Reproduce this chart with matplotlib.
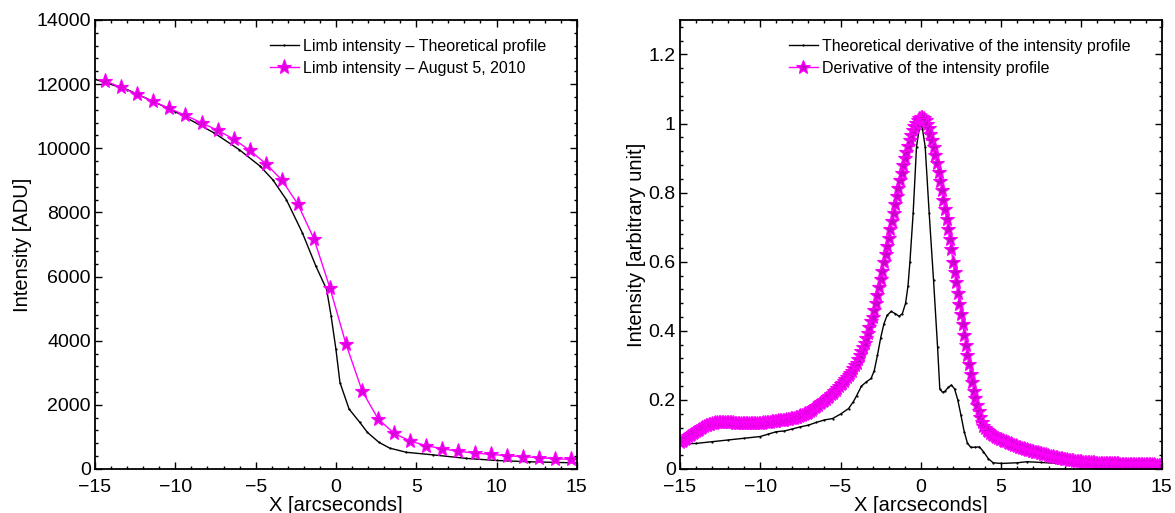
import numpy as np
import matplotlib.pyplot as plt
from matplotlib.ticker import MultipleLocator

plt.rcParams['font.family'] = ['Liberation Sans', 'DejaVu Sans']

# -------------------------------------------
# Left panel: limb intensity profiles
# -------------------------------------------
theo_x = [-15, -13, -11.6, -10, -7.57, -6.02, -4.71, -3.94, -3.09, -2.09,
          -1.25, -0.58, -0.30, 0.0, 0.25, 0.82, 1.49, 1.96, 2.68, 3.35, 4.39,
          6.05, 8.12, 10, 12, 15]
theo_y = [12150, 11830, 11510, 11140, 10474, 9955, 9437, 9022, 8400, 7363,
          6326, 5600, 4770, 3733, 2696, 1867, 1452, 1141, 830, 650, 520, 440,
          330, 265, 225, 190]

obs_x = [-14.37, -13.37, -12.37, -11.37, -10.37, -9.37, -8.37, -7.37, -6.37,
         -5.37, -4.37, -3.37, -2.37, -1.37, -0.37, 0.63, 1.63, 2.63, 3.63,
         4.63, 5.63, 6.63, 7.63, 8.63, 9.63, 10.63, 11.63, 12.63, 13.63, 14.63]
obs_y = [12100, 11895, 11677, 11459, 11241, 11024, 10796, 10557, 10287, 9935,
         9520, 9012, 8255, 7176, 5641, 3889, 2437, 1556, 1110, 871, 726, 633,
         550, 498, 456, 415, 384, 353, 321, 301]

# -------------------------------------------
# Right panel: derivatives
# -------------------------------------------
dtheo_x = [-15, -14, -13, -12, -11, -10, -9.5, -9, -8.5, -8, -7.5, -7, -6.5,
           -6, -5.5, -5, -4.5, -4.2, -4.0, -3.7, -3.4, -3.1, -2.9, -2.7, -2.5,
           -2.3, -2.1, -1.85, -1.6, -1.35, -1.15, -0.95, -0.8, -0.68, -0.48,
           -0.27, -0.1, 0, 0.1, 0.27, 0.52, 0.79, 1.04, 1.18, 1.35, 1.5, 1.7,
           1.9, 2.1, 2.3, 2.5, 2.7, 2.9, 3.1, 3.4, 3.65, 3.9, 4.2, 4.5, 5, 6,
           6.6, 7.5, 8.5, 9.5, 10.5, 12, 13.5, 15]
dtheo_y = [0.072, 0.074, 0.079, 0.084, 0.089, 0.094, 0.101, 0.108, 0.110,
           0.116, 0.122, 0.127, 0.135, 0.142, 0.146, 0.159, 0.175, 0.195,
           0.212, 0.240, 0.252, 0.262, 0.285, 0.330, 0.380, 0.420, 0.445,
           0.456, 0.450, 0.442, 0.450, 0.480, 0.530, 0.600, 0.740, 0.933,
           0.985, 1.0, 0.985, 0.933, 0.740, 0.547, 0.354, 0.232, 0.222, 0.225,
           0.236, 0.243, 0.232, 0.200, 0.155, 0.108, 0.075, 0.063, 0.063,
           0.064, 0.050, 0.030, 0.018, 0.016, 0.018, 0.021, 0.019, 0.016,
           0.012, 0.008, 0.005, 0.003, 0.002]

# observed derivative, sampled every 0.1 arcsec from -15 to 15
dobs_x = np.round(np.arange(-150, 151) / 10.0, 1)
dobs_y = [
    0.077, 0.080, 0.084, 0.087, 0.091, 0.095, 0.098, 0.102, 0.105, 0.108,  # -15
    0.111, 0.114, 0.116, 0.119, 0.121, 0.124, 0.126, 0.128, 0.130, 0.131,  # -14
    0.133, 0.134, 0.135, 0.136, 0.136, 0.137, 0.137, 0.137, 0.137, 0.136,  # -13
    0.136, 0.136, 0.135, 0.135, 0.134, 0.134, 0.133, 0.133, 0.133, 0.132,  # -12
    0.132, 0.132, 0.132, 0.132, 0.132, 0.132, 0.132, 0.133, 0.133, 0.133,  # -11
    0.134, 0.134, 0.135, 0.135, 0.136, 0.137, 0.137, 0.138, 0.139, 0.139,  # -10
    0.140, 0.141, 0.141, 0.142, 0.142, 0.143, 0.144, 0.145, 0.146, 0.147,  # -9
    0.148, 0.149, 0.150, 0.151, 0.153, 0.156, 0.157, 0.159, 0.161, 0.163,  # -8
    0.166, 0.169, 0.172, 0.176, 0.179, 0.183, 0.186, 0.190, 0.193, 0.197,  # -7
    0.200, 0.204, 0.208, 0.212, 0.216, 0.221, 0.225, 0.230, 0.235, 0.240,  # -6
    0.245, 0.250, 0.255, 0.260, 0.266, 0.272, 0.277, 0.285, 0.292, 0.300,  # -5
    0.308, 0.318, 0.329, 0.341, 0.353, 0.366, 0.380, 0.395, 0.411, 0.428,  # -4
    0.440, 0.460, 0.481, 0.503, 0.526, 0.550, 0.574, 0.598, 0.622, 0.646,  # -3
    0.670, 0.694, 0.718, 0.742, 0.766, 0.790, 0.813, 0.836, 0.858, 0.879,  # -2
    0.899, 0.918, 0.936, 0.952, 0.967, 0.980, 0.992, 1.002, 1.010, 1.016,  # -1
    1.020, 1.020, 1.016, 1.009, 0.999, 0.986, 0.970, 0.952, 0.932, 0.910,  # 0
    0.886, 0.861, 0.835, 0.808, 0.780, 0.752, 0.723, 0.694, 0.665, 0.636,  # 1
    0.600, 0.570, 0.540, 0.509, 0.479, 0.449, 0.419, 0.389, 0.360, 0.331,  # 2
    0.303, 0.276, 0.251, 0.227, 0.205, 0.185, 0.167, 0.151, 0.137, 0.125,  # 3
    0.120, 0.114, 0.109, 0.105, 0.101, 0.098, 0.095, 0.092, 0.090, 0.088,  # 4
    0.086, 0.084, 0.082, 0.080, 0.078, 0.076, 0.074, 0.072, 0.070, 0.068,  # 5
    0.066, 0.065, 0.063, 0.062, 0.060, 0.059, 0.057, 0.056, 0.054, 0.053,  # 6
    0.051, 0.050, 0.049, 0.048, 0.046, 0.045, 0.044, 0.043, 0.042, 0.041,  # 7
    0.039, 0.038, 0.037, 0.036, 0.035, 0.034, 0.033, 0.032, 0.031, 0.030,  # 8
    0.029, 0.028, 0.027, 0.027, 0.026, 0.025, 0.024, 0.024, 0.023, 0.022,  # 9
    0.022, 0.021, 0.021, 0.020, 0.020, 0.020, 0.019, 0.019, 0.019, 0.018,  # 10
    0.018, 0.018, 0.018, 0.017, 0.017, 0.017, 0.017, 0.017, 0.016, 0.016,  # 11
    0.016, 0.016, 0.016, 0.016, 0.015, 0.015, 0.015, 0.015, 0.015, 0.015,  # 12
    0.015, 0.014, 0.014, 0.014, 0.014, 0.014, 0.014, 0.014, 0.014, 0.013,  # 13
    0.013, 0.013, 0.013, 0.013, 0.013, 0.013, 0.012, 0.012, 0.012, 0.012,  # 14
    0.012,                                                                 # 15
]

MAG = '#ff00ff'


def style_axes(ax, ymaj, ymin):
    ax.set_xlim(-15, 15)
    ax.xaxis.set_major_locator(MultipleLocator(5))
    ax.xaxis.set_minor_locator(MultipleLocator(1))
    ax.yaxis.set_major_locator(MultipleLocator(ymaj))
    ax.yaxis.set_minor_locator(MultipleLocator(ymin))
    ax.tick_params(which='both', direction='in', top=True, right=True,
                   labelsize=14, width=1)
    ax.tick_params(axis='x', which='major', pad=7)
    ax.tick_params(axis='y', which='major', pad=3)
    ax.tick_params(which='major', length=5)
    ax.tick_params(which='minor', length=2.5)
    for s in ax.spines.values():
        s.set_linewidth(1.3)
    ax.set_xlabel('X [arcseconds]', fontsize=14.5, labelpad=0)


fig = plt.figure(figsize=(11.75, 5.13), dpi=100)
ax1 = fig.add_axes([0.0809, 0.0858, 0.410, 0.8753])
ax2 = fig.add_axes([0.5787, 0.0858, 0.410, 0.8753])

leg_kw = dict(loc='upper left', frameon=False, fontsize=11.5,
              handlelength=1.8, handletextpad=0.3, labelspacing=0.45,
              borderpad=0, borderaxespad=0)

# left
ax1.plot(theo_x, theo_y, color='black', lw=1.0, marker='.', ms=1.2,
         label='Limb intensity \u2013 Theoretical profile')
ax1.plot(obs_x, obs_y, color=MAG, lw=1.0, marker='*', ms=11,
         mfc='#dd00dd', mec=MAG, mew=0.8,
         label='Limb intensity \u2013 August 5, 2010')
ax1.set_ylim(0, 14000)
style_axes(ax1, 2000, 400)
ax1.set_ylabel('Intensity [ADU]', fontsize=14.5, labelpad=3)
ax1.legend(bbox_to_anchor=(0.363, 0.958), **leg_kw)

# right
ax2.plot(dtheo_x, dtheo_y, color='black', lw=1.0, marker='.', ms=1.2,
         label='Theoretical derivative of the intensity profile')
ax2.plot(dobs_x, dobs_y, color=MAG, lw=1.0, marker='*', ms=10.5,
         mfc='#cc00cc', mec=MAG, mew=0.8,
         label='Derivative of the intensity profile')
ax2.set_ylim(0, 1.3)
style_axes(ax2, 0.2, 0.04)
ax2.yaxis.set_major_formatter(plt.FuncFormatter(lambda v, p: f'{v:g}'))
ax2.set_ylabel('Intensity [arbitrary unit]', fontsize=14.5, labelpad=2)
ax2.legend(bbox_to_anchor=(0.226, 0.958), **leg_kw)

fig.savefig('out.png', dpi=100)
